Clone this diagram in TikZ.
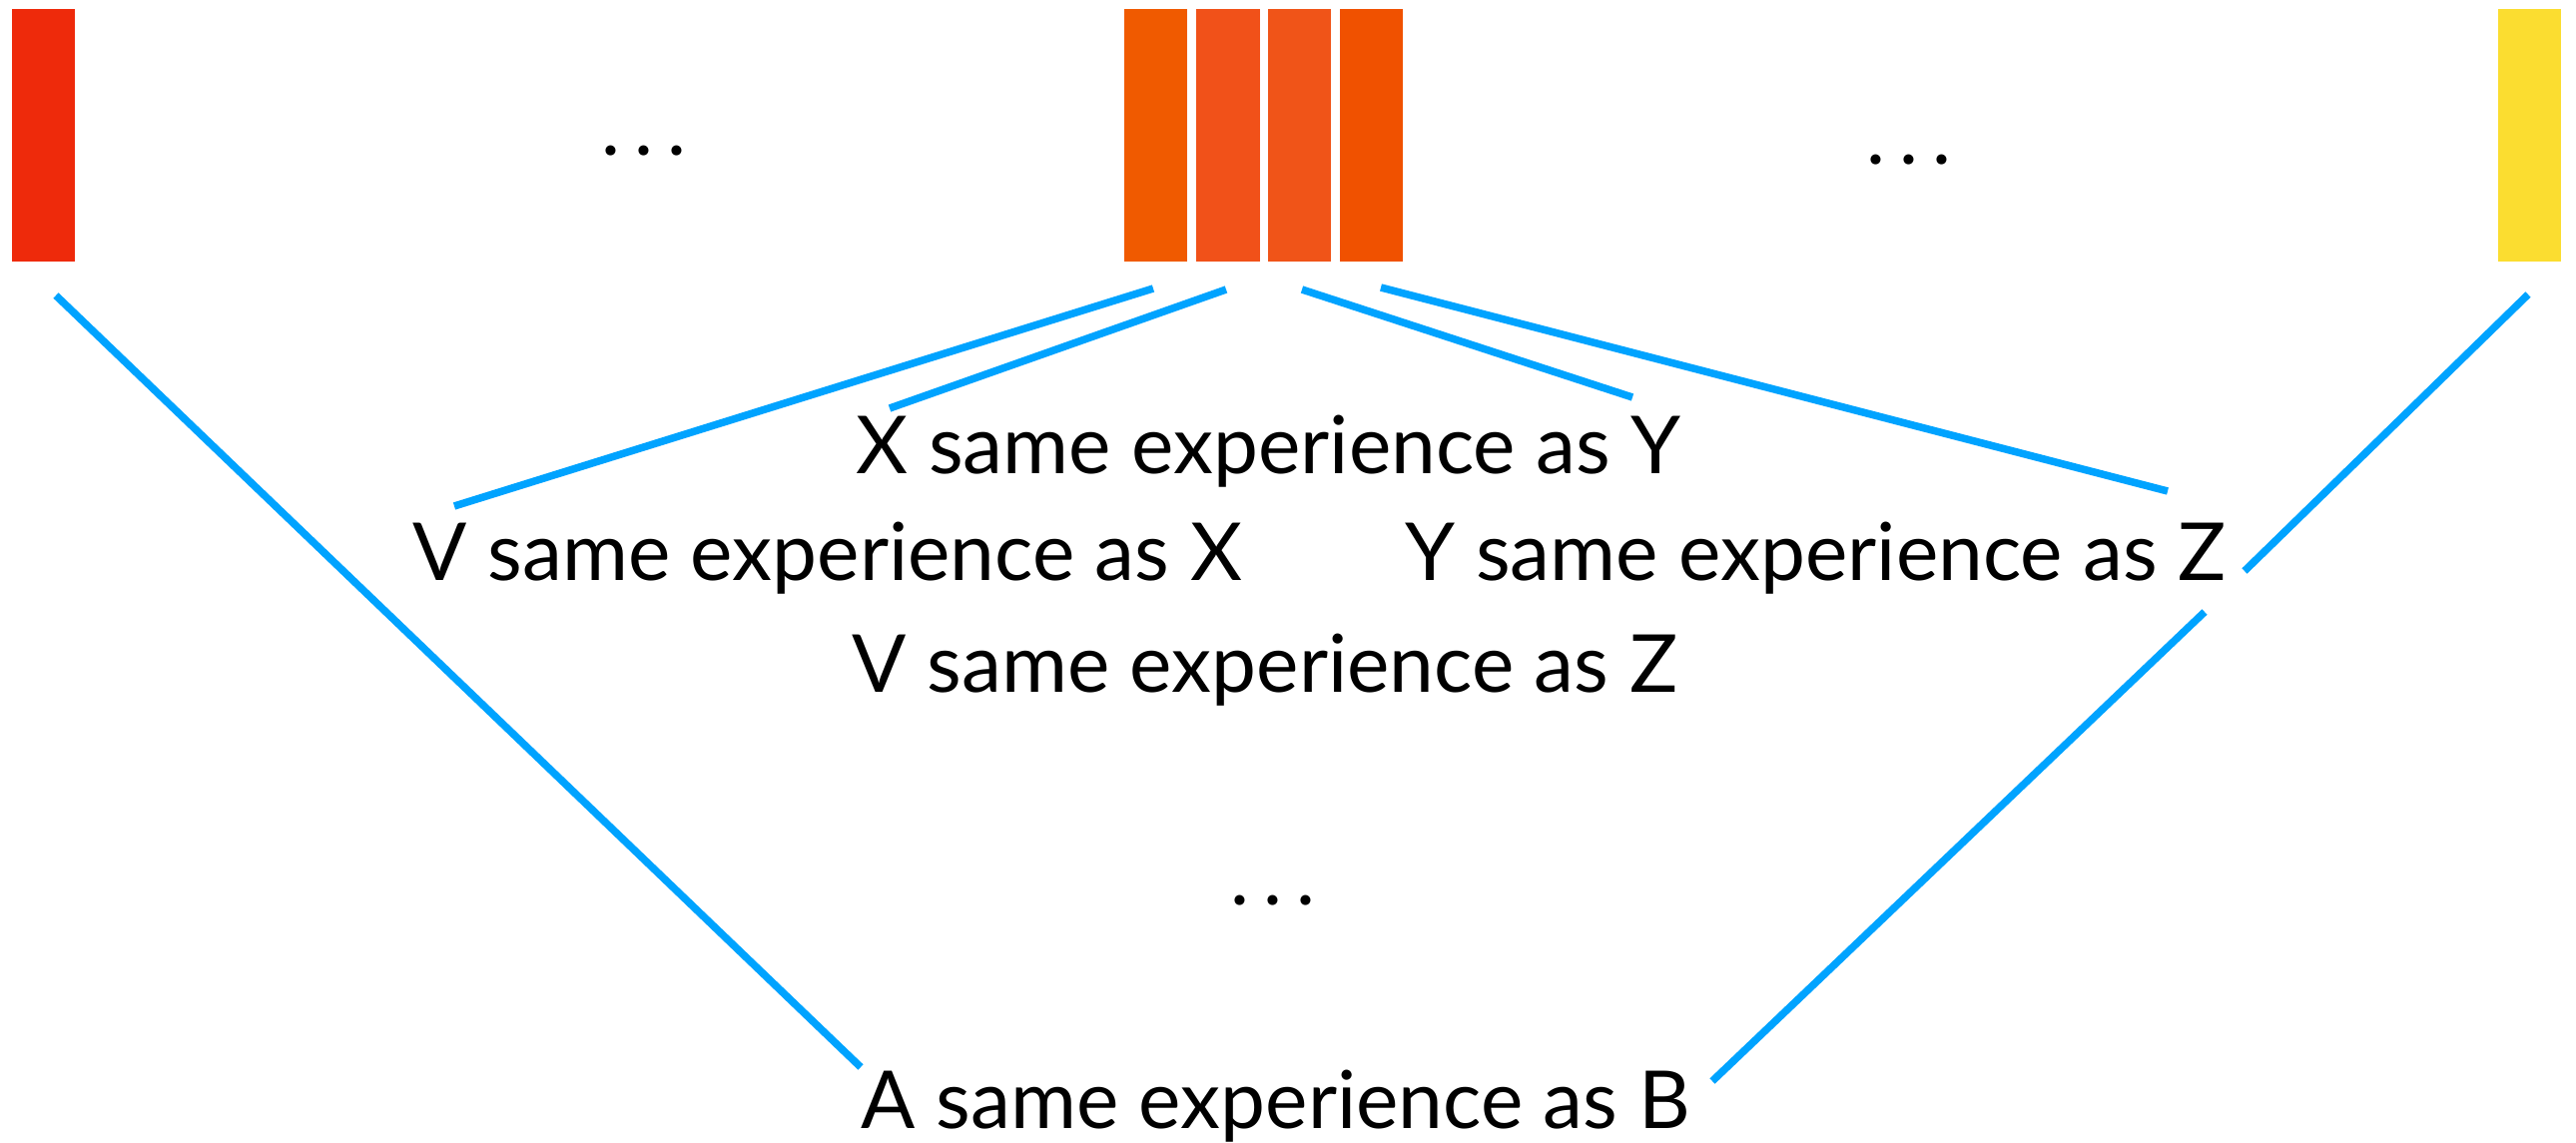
\documentclass[tikz,border=0pt]{standalone}
\usepackage{fontspec}
\setmainfont{Lato}
\definecolor{barred}{HTML}{EE2A0B}
\definecolor{barorA}{HTML}{F05A00}
\definecolor{barorB}{HTML}{F15119}
\definecolor{barorC}{HTML}{F05418}
\definecolor{barorD}{HTML}{F05100}
\definecolor{baryel}{HTML}{FBDD30}
\definecolor{lineblue}{HTML}{00A3FF}
\newcommand{\mydots}{.\kern0.18em.\kern0.18em.}
\begin{document}
\begin{tikzpicture}[x=0.01cm,y=-0.01cm,
  bar/.style={fill=#1, draw=none},
  link/.style={draw=lineblue, line width=0.075cm},
  lbl/.style={anchor=base west, inner sep=0pt, font=\fontsize{22.8}{27}\selectfont},
  dotsl/.style={anchor=base, inner sep=0pt, font=\fontsize{22.8}{27}\selectfont}]
\useasboundingbox (0,0) rectangle (2580,1145);
% bars
\fill[bar=barred] (12,9) rectangle (75,262);
\fill[bar=barorA] (1126,9) rectangle (1189,262);
\fill[bar=barorB] (1198,9) rectangle (1262,262);
\fill[bar=barorC] (1270,9) rectangle (1333,262);
\fill[bar=barorD] (1342,9) rectangle (1405,262);
\fill[bar=baryel] (2502,9) rectangle (2565,262);
% dots
\node[dotsl] (d1) at (645,155) {\mydots};
\node[dotsl] (d2) at (1912,164) {\mydots};
\node[dotsl] (d3) at (1275,906) {\mydots};
% labels
\node[lbl] (xy) at (857,474) {X same experience as Y};
\node[lbl] (vx) at (413,581) {V same experience as X};
\node[lbl] (yz) at (1407,581) {Y same experience as Z};
\node[lbl] (vz) at (853,693) {V same experience as Z};
\node[lbl] (ab) at (862,1130) {A same experience as B};
% line end points
\coordinate (l1a) at (56,296);   \coordinate (l1b) at (862,1069);
\coordinate (l2a) at (1155,289); \coordinate (l2b) at (455,507);
\coordinate (l3a) at (1228,290); \coordinate (l3b) at (891,409);
\coordinate (l4a) at (1304,290); \coordinate (l4b) at (1635,398);
\coordinate (l5a) at (1383,288); \coordinate (l5b) at (2171,492);
\coordinate (l6a) at (2532,295); \coordinate (l6b) at (2248,572);
\coordinate (l7a) at (2208,613); \coordinate (l7b) at (1715,1083);
\draw[link] (l1a) -- (l1b);
\draw[link] (l2a) -- (l2b);
\draw[link] (l3a) -- (l3b);
\draw[link] (l4a) -- (l4b);
\draw[link] (l5a) -- (l5b);
\draw[link] (l6a) -- (l6b);
\draw[link] (l7a) -- (l7b);
\end{tikzpicture}
\end{document}
